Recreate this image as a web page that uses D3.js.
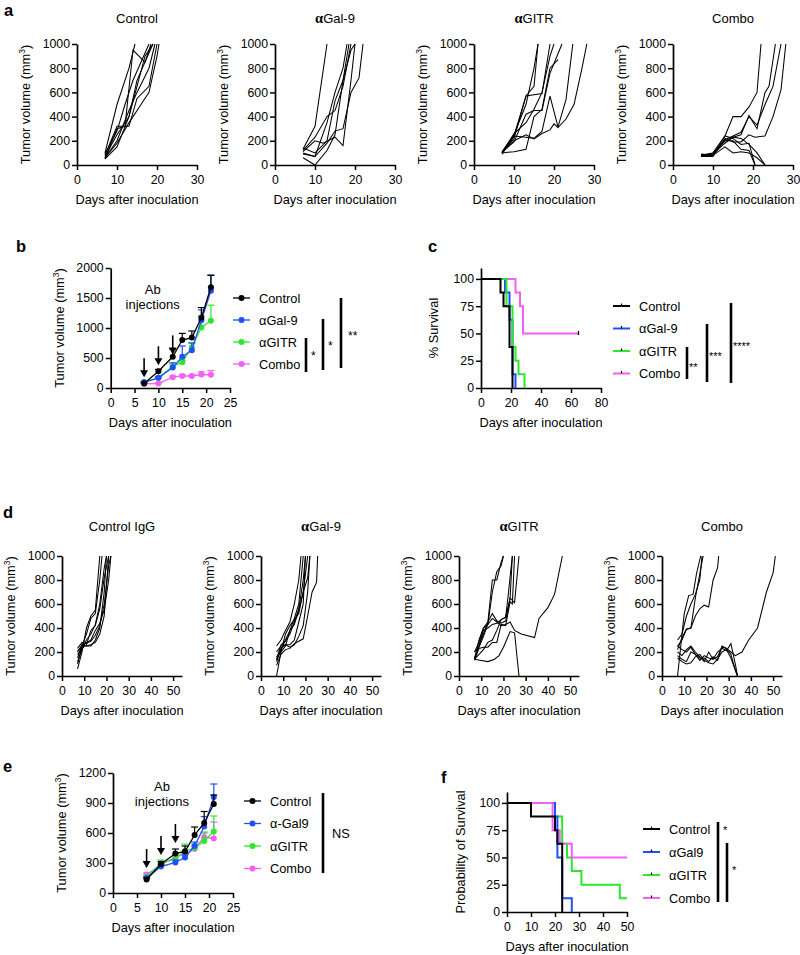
<!DOCTYPE html>
<html><head><meta charset="utf-8">
<script src="https://cdn.jsdelivr.net/npm/d3@7"></script>
<style>
body{margin:0;background:#fff}
svg{display:block}
text{font-family:"Liberation Sans",Arial,sans-serif;fill:#000}
</style>
</head><body><svg id="c" width="800" height="955"></svg>
<script>
// ---------------- DATA ----------------
const groups = ["Control","αGal-9","αGITR","Combo"];
const groupsE = ["Control","α-Gal9","αGITR","Combo"];
const groupsF = ["Control","αGal9","αGITR","Combo"];
const aTitles = ["Control","αGal-9","αGITR","Combo"];
const dTitles = ["Control IgG","αGal-9","αGITR","Combo"];
const aXTicks = [0,10,20,30];
const aYTicks = [0,200,400,600,800,1000];
const dXTicks = [0,10,20,30,40,50];
const bXTicks = [0,5,10,15,20,25];
const bYTicks = [0,500,1000,1500,2000];
const eYTicks = [0,300,600,900,1200];
const cXTicks = [0,20,40,60,80];
const fXTicks = [0,10,20,30,40,50];
const survTicks = [0,25,50,75,100];

// panel a individual tumors [day, volume]
const aControl = [
 [[7,100],[10,500],[13,800],[14.5,1000]],
 [[7,50],[10,300],[12,320],[14,950],[17,850],[18.5,1000]],
 [[7,70],[10,250],[13,400],[15,700],[17,850],[19,1000]],
 [[7,60],[10,200],[13,450],[15,600],[18,800],[19.5,1000]],
 [[7,80],[10,320],[13,320],[15,550],[18,650],[20,1000]],
 [[7,50],[10,150],[13,400],[15,650],[17,900],[19,1000]],
 [[7,90],[10,280],[12,500],[14,700],[18,1000]],
 [[7,60],[10,180],[13,350],[16,500],[18,600],[20,900],[20.5,1000]]
];
const aGal9 = [
 [[7,130],[10,320],[13,1000]],
 [[7,100],[10,70],[13,350],[15,600],[17,800],[18,1000]],
 [[7,60],[10,0],[13,120],[15,250],[17,700],[18.5,1000]],
 [[7,110],[10,200],[12,180],[15,230],[17,160],[19,700],[20,1000]],
 [[7,140],[10,100],[13,200],[15,530],[17,700],[19,950],[20,1000]],
 [[7,90],[10,70],[13,180],[15,280],[17,300],[19,600],[21,720],[22,1000]],
 [[7,120],[10,230],[13,400],[15,450],[17,650],[19,1000]]
];
const aGITR = [
 [[7,110],[10,250],[13,500],[15,800],[16,1000]],
 [[7,100],[10,220],[13,570],[15,650],[16,1000]],
 [[7,100],[10,240],[13,570],[17,590],[19,1000]],
 [[7,100],[10,110],[13,130],[15,400],[17,460],[19,800],[21,870]],
 [[7,110],[10,190],[13,420],[15,450],[17,450],[19,760],[22,1000]],
 [[7,90],[10,240],[13,230],[15,220],[17,280],[19,570],[21,315],[23,540],[24.7,1000]],
 [[7,100],[10,200],[13,250],[15,215],[17,260],[19,290],[20,340],[21,310],[23,380],[25,500],[27,800],[28.2,1000]],
 [[7,100],[10,260],[13,350],[15,460],[17,600],[19,900],[20,1000]]
];
const aCombo = [
 [[7,80],[10,80],[13,240],[15,400],[17,400],[19,480],[21,600],[22,1000]],
 [[7,80],[10,90],[13,200],[15,230],[17,250],[19,410],[21,300],[23,600],[24,650],[25.6,1000]],
 [[7,70],[10,70],[13,220],[15,190],[17,190],[19,250],[20.5,230],[23,240],[25,400],[27,620],[28.2,1000]],
 [[7,75],[10,85],[13,210],[15,240],[17,270],[19,400],[21,330],[23,500],[25,650],[27,1000]],
 [[7,80],[10,100],[13,240],[15,220],[17,170],[19,180],[20.5,0]],
 [[7,70],[10,100],[13,200],[15,200],[17,130],[19,120],[20.5,0]],
 [[7,90],[10,80],[13,150],[15,100],[17,110],[19,100],[21,60],[23,0]],
 [[7,85],[10,90],[13,180],[15,230],[17,220],[19,170],[21,100],[23,0]]
];

// panel d individual tumors
const dControl = [
 [[7,60],[9,200],[11,400],[13,500],[15,550],[17,1000]],
 [[7,100],[9,250],[11,350],[13,480],[15,520],[17,800],[18,1000]],
 [[7,150],[9,260],[11,250],[13,250],[15,300],[17,400],[19,700],[20,1000]],
 [[7,200],[9,260],[11,250],[13,260],[15,280],[17,350],[19,500],[21,1000]],
 [[7,230],[9,280],[11,270],[13,300],[15,380],[17,440],[19,550],[21,800],[22,1000]],
 [[7,120],[9,220],[11,300],[13,350],[15,430],[17,600],[19,900],[20,1000]],
 [[7,180],[9,230],[11,260],[13,380],[15,420],[17,560],[19,820],[21,1000]],
 [[7,210],[9,240],[11,280],[13,290],[15,340],[17,420],[19,600],[21,920],[22,1000]]
];
const dGal9 = [
 [[7,250],[9,300],[11,380],[13,450],[15,600],[17,800],[18,1000]],
 [[7,0],[9,200],[11,250],[13,380],[15,480],[17,600],[19,1000]],
 [[7,130],[9,230],[11,260],[13,260],[15,300],[17,450],[19,600],[20,1000]],
 [[7,160],[9,200],[11,350],[13,420],[15,470],[17,520],[19,700],[21,1000]],
 [[7,200],[9,250],[11,260],[13,240],[15,260],[17,330],[19,420],[21,700],[22,1000]],
 [[7,90],[9,180],[11,220],[13,230],[15,270],[17,290],[19,310],[21,500],[23,700],[25,780],[25.5,1000]],
 [[7,120],[9,220],[11,300],[13,380],[15,430],[17,550],[19,700],[21,820],[22,1000]],
 [[7,140],[9,260],[11,290],[13,350],[15,450],[17,560],[19,800],[20,1000]]
];
const dGITR = [
 [[7,140],[9,300],[11,400],[13,430],[15,700],[17,870],[19,920],[20,1000]],
 [[7,200],[9,280],[11,400],[13,450],[15,800],[17,800],[19,950],[20,1000]],
 [[7,150],[9,250],[11,350],[13,450],[15,520],[17,460],[19,440],[21,460],[23,650],[24,1000]],
 [[7,200],[9,240],[11,330],[13,430],[15,480],[17,450],[19,420],[21,430],[23,450],[25,380],[28,350],[34,320],[36,480],[40,570],[43,680],[46.5,1000]],
 [[7,130],[9,230],[11,240],[13,240],[15,280],[17,280],[19,430],[21,420],[23,620],[24,600],[25,1000]],
 [[7,140],[9,180],[11,220],[13,280],[15,300],[17,380],[19,470],[21,490],[23,650],[25,610],[27,1000]],
 [[7,140],[10,130],[13,120],[16,140],[18,170],[20,240],[23,370],[25,360],[27,0]],
 [[7,150],[9,250],[11,380],[13,400],[15,430],[17,440],[19,470],[21,490],[22,650],[24,1000]]
];
const dCombo = [
 [[7,300],[9,350],[11,500],[13,600],[15,680],[17,800],[18,1000]],
 [[7,0],[10,520],[12,670],[14,680],[15.5,850],[17.4,1000]],
 [[7,250],[9,300],[11,390],[13,400],[15,650],[17,850],[18.5,1000]],
 [[7,220],[9,320],[11,390],[13,400],[15,500],[17,560],[19,590],[21,575],[23,800],[25,900],[25.5,1000]],
 [[7,250],[9,220],[11,200],[13,240],[15,180],[17,130],[19,170],[21,150],[23,140],[25,160],[27,240],[29,230],[31,200],[33,170],[36,200],[39,300],[43,400],[47,700],[50,860],[51,1000]],
 [[7,200],[9,170],[11,220],[13,250],[15,200],[17,160],[19,120],[21,200],[23,140],[25,200],[27,230],[29,210],[31,270],[33,100],[34,0]],
 [[7,170],[9,140],[11,120],[13,200],[15,180],[17,150],[19,150],[21,120],[23,160],[25,130],[27,250],[29,230],[31,180],[33,50],[34,0]],
 [[7,150],[9,120],[11,100],[13,110],[15,160],[17,180],[19,130],[21,110],[23,100],[25,140],[27,200],[29,220],[31,150],[34,0]]
];

// panel b means (mm3) and upper SEM
const bDays = [7,10,13,15,17,19,21];
const bControl = [75,280,520,800,840,1170,1680];
const bControlErr = [10,30,130,110,110,170,200];
const bGal9 = [100,170,340,520,630,1130,1620];
const bGal9Err = [10,20,80,180,120,170,260];
const bGITR = [90,170,360,430,680,1010,1120];
const bGITRErr = [10,20,40,30,70,190,260];
const bCombo = [70,75,180,200,200,225,220];
const bComboErr = [5,10,20,20,15,45,70];
const bArrowTips = [180,380,560];

// panel e means and upper SEM
const eDays = [7,10,13,15,17,19,21];
const eControl = [135,290,395,415,580,700,890];
const eControlErr = [15,25,45,55,80,115,90];
const eGal9 = [150,265,305,355,470,665,960];
const eGal9Err = [10,20,25,25,40,100,130];
const eGITR = [160,300,340,420,450,520,615];
const eGITRErr = [15,30,40,70,40,90,155];
const eCombo = [185,280,360,390,440,560,545];
const eComboErr = [15,20,30,30,30,40,165];
const eArrowTips = [250,380,500];

// panel c survival (% , step after)
const cControl = [[0,100],[13,87.5],[15,75],[19,37.5],[21,0]];
const cGal9 = [[0,100],[16,87.5],[19,62.5],[21,12.5],[23,0]];
const cGITR = [[0,100],[17,75],[21,37.5],[23,25],[25,12.5],[29,0]];
const cCombo = [[0,100],[23,87.5],[26,75],[28,50],[65,50]];
const cCensor = [[65,50]];

// panel f survival
const fControl = [[0,100],[10,87.5],[20,75],[21,62.5],[23,0]];
const fGal9 = [[0,100],[20,87.5],[21,50],[23,12.5],[27,0]];
const fGITR = [[0,100],[20,87.5],[23,62.5],[25,50],[27,37.5],[31,25],[47,12.5],[50,12.5]];
const fCombo = [[0,100],[19,75],[22,62.5],[27,50],[50,50]];

const sigB = ["*","*","**"];
const sigC = ["**","***","****"];
const sigE = ["NS"];
const sigF = ["*","*"];

// ---------------- STYLE ----------------
const COL = {Control:"#000000", Gal9:"#1f4fff", GITR:"#2fe62f", Combo:"#f55ff5"};
const colList = [COL.Control, COL.Gal9, COL.GITR, COL.Combo];
const FONT = "'Liberation Sans', Arial, sans-serif";
const fmt = d3.format("d");

const svg = d3.select("#c");

function styleAxis(g){
  g.attr("font-family", FONT).attr("font-size", 12.3);
  g.select(".domain").attr("stroke","#000").attr("stroke-width",1.7);
  g.selectAll(".tick line").attr("stroke","#000").attr("stroke-width",1.5);
  g.selectAll(".tick text").attr("fill","#000");
}

function drawAxes(x, y, xticks, yticks, ylabel, yLabelOffset){
  const g = svg.append("g");
  const gx = g.append("g").attr("transform",`translate(0,${y(0)})`)
    .call(d3.axisBottom(x).tickValues(xticks).tickFormat(fmt).tickSize(5).tickPadding(5).tickSizeOuter(0));
  styleAxis(gx);
  const gy = g.append("g").attr("transform",`translate(${x(0)},0)`)
    .call(d3.axisLeft(y).tickValues(yticks).tickFormat(fmt).tickSize(5).tickPadding(2).tickSizeOuter(0));
  styleAxis(gy);
  const xm = (x.range()[0]+x.range()[1])/2;
  g.append("text").attr("x",xm).attr("y",y(0)+39).attr("text-anchor","middle")
    .attr("font-size",12.8).text("Days after inoculation");
  const ym = (y.range()[0]+y.range()[1])/2;
  const t = g.append("text").attr("transform",`translate(${x(0)-yLabelOffset},${ym}) rotate(-90)`)
    .attr("text-anchor","middle").attr("font-size",12.8);
  if(ylabel==="tumor"){
    t.append("tspan").text("Tumor volume (mm");
    t.append("tspan").attr("font-size",8.5).attr("dy",-5).text("3");
    t.append("tspan").attr("dy",5).text(")");
  } else t.text(ylabel);
  return g;
}

function title(x, y, str){
  const t = svg.append("text").attr("x",x).attr("y",y).attr("text-anchor","middle").attr("font-size",13);
  if(str.startsWith("α")){
    t.append("tspan").attr("font-family","'Liberation Serif','DejaVu Serif',serif").attr("font-weight","bold").attr("font-size",14.5).text("α");
    t.append("tspan").text(str.slice(1));
  } else t.text(str);
}

function panelLabel(x,y,s){
  svg.append("text").attr("x",x).attr("y",y).attr("font-size",16.5).attr("font-weight","bold").text(s);
}

// --------------- spaghetti panels ---------------
function spaghetti(x0, top, bottom, xmax, xticks, data, ttl, titleY){
  const x = d3.scaleLinear().domain([0,xmax]).range([x0, x0+120]);
  const y = d3.scaleLinear().domain([0,1000]).range([bottom, top]);
  drawAxes(x,y,xticks,aYTicks,"tumor",47);
  const line = d3.line().x(d=>x(d[0])).y(d=>y(d[1]));
  svg.append("g").selectAll("path").data(data).join("path")
    .attr("d",line).attr("fill","none").attr("stroke","#000").attr("stroke-width",1.05);
  title((x.range()[0]+x.range()[1])/2, titleY, ttl);
}

panelLabel(4,16,"a");
const aData = [aControl,aGal9,aGITR,aCombo];
const aX0 = [77,275,474,673];
aData.forEach((d,i)=>spaghetti(aX0[i],44,165,30,aXTicks,d,aTitles[i],23));

panelLabel(3,518,"d");
const dData = [dControl,dGal9,dGITR,dCombo];
const dX0 = [62,261,459,662];
dData.forEach((d,i)=>spaghetti(dX0[i],556,676,54,dXTicks,d,dTitles[i],531));

// --------------- mean growth panels (b, e) ---------------
function growth(xr, yr, ymax, yticks, series, errs, days, arrowTips, abPos, legendNames, legX, legY, legStep){
  const x = d3.scaleLinear().domain([0,25]).range(xr);
  const y = d3.scaleLinear().domain([0,ymax]).range(yr);
  drawAxes(x,y,bXTicks,yticks,"tumor",47);
  const line = d3.line().x((d,i)=>x(days[i])).y(d=>y(d));
  const order = [3,2,1,0];
  order.forEach(k=>{
    const g = svg.append("g");
    const vals = series[k], er = errs[k], c = colList[k];
    g.selectAll("line.e").data(vals).join("line")
      .attr("x1",(d,i)=>x(days[i])).attr("x2",(d,i)=>x(days[i]))
      .attr("y1",d=>y(d)).attr("y2",(d,i)=>y(d+er[i])).attr("stroke",c).attr("stroke-width",1.2);
    g.selectAll("line.c").data(vals).join("line")
      .attr("x1",(d,i)=>x(days[i])-3.5).attr("x2",(d,i)=>x(days[i])+3.5)
      .attr("y1",(d,i)=>y(d+er[i])).attr("y2",(d,i)=>y(d+er[i])).attr("stroke",c).attr("stroke-width",1.2);
    g.append("path").attr("d",line(vals)).attr("fill","none").attr("stroke",c).attr("stroke-width",1.3);
    g.selectAll("circle").data(vals).join("circle")
      .attr("cx",(d,i)=>x(days[i])).attr("cy",d=>y(d)).attr("r",3).attr("fill",c);
  });
  const ag = svg.append("g");
  [7,10,13].forEach((dd,i)=>{
    const tx = x(dd), ty = y(arrowTips[i]);
    ag.append("line").attr("x1",tx).attr("x2",tx).attr("y1",ty-19).attr("y2",ty-6).attr("stroke","#000").attr("stroke-width",1.6);
    ag.append("path").attr("d",`M${tx-4},${ty-7}L${tx+4},${ty-7}L${tx},${ty}Z`).attr("fill","#000");
  });
  svg.append("text").attr("x",x(abPos[0])).attr("y",y(abPos[1])).attr("text-anchor","middle").attr("font-size",13).text("Ab");
  svg.append("text").attr("x",x(abPos[0])).attr("y",y(abPos[1])+15).attr("text-anchor","middle").attr("font-size",13).text("injections");
  const lg = svg.append("g");
  legendNames.forEach((n,i)=>{
    const yy = legY + i*legStep;
    lg.append("line").attr("x1",legX).attr("x2",legX+17).attr("y1",yy).attr("y2",yy).attr("stroke",colList[i]).attr("stroke-width",1.3);
    lg.append("circle").attr("cx",legX+8.5).attr("cy",yy).attr("r",3).attr("fill",colList[i]);
    lg.append("text").attr("x",legX+26).attr("y",yy+4.5).attr("font-size",12.8).text(n);
  });
}

panelLabel(16,252,"b");
growth([110.7,230],[388,268],2000,bYTicks,[bControl,bGal9,bGITR,bCombo],[bControlErr,bGal9Err,bGITRErr,bComboErr],bDays,bArrowTips,[8.8,1575],groups,233,298,22);
panelLabel(3,772,"e");
growth([113,233],[893,773],1200,eYTicks,[eControl,eGal9,eGITR,eCombo],[eControlErr,eGal9Err,eGITRErr,eComboErr],eDays,eArrowTips,[10.2,1020],groupsE,244,801,22.5);

// --------------- survival panels (c, f) ---------------
function survival(xr, yr, xmax, xticks, curves, order, legendNames, legX, legY, legStep, ylabel, yoff, censor){
  const x = d3.scaleLinear().domain([0,xmax]).range(xr);
  const y = d3.scaleLinear().domain([0,110]).range(yr);
  drawAxes(x,y,xticks,survTicks,ylabel,yoff);
  const gen = d3.line().x(d=>x(d[0])).y(d=>y(d[1])).curve(d3.curveStepAfter);
  order.forEach(k=>{
    svg.append("path").attr("d",gen(curves[k])).attr("fill","none").attr("stroke",colList[k]).attr("stroke-width",2);
  });
  censor.forEach(d=>{
    svg.append("line").attr("x1",x(d[0])).attr("x2",x(d[0])).attr("y1",y(d[1])-2.5).attr("y2",y(d[1])+1.5).attr("stroke","#000").attr("stroke-width",1.3);
  });
  legendNames.forEach((n,i)=>{
    const yy = legY + i*legStep;
    svg.append("line").attr("x1",legX).attr("x2",legX+17).attr("y1",yy).attr("y2",yy).attr("stroke",colList[i]).attr("stroke-width",2);
    svg.append("line").attr("x1",legX+8.5).attr("x2",legX+8.5).attr("y1",yy-2.5).attr("y2",yy).attr("stroke","#000").attr("stroke-width",1.2);
    svg.append("text").attr("x",legX+26).attr("y",yy+4.5).attr("font-size",12.8).text(n);
  });
}

panelLabel(428,252,"c");
survival([481,601],[388,268],80,cXTicks,[cControl,cGal9,cGITR,cCombo],[1,3,2,0],groups,613,306,22.5,"% Survival",43,cCensor);
panelLabel(441,783,"f");
survival([507,627],[912,792],50,fXTicks,[fControl,fGal9,fGITR,fCombo],[2,1,3,0],groupsF,643,829,23,"Probability of Survival",42,[]);

// --------------- significance bars ---------------
function sigBar(x, y1, y2, label, lx, ly, fs){
  svg.append("line").attr("x1",x).attr("x2",x).attr("y1",y1).attr("y2",y2).attr("stroke","#000").attr("stroke-width",2.6);
  svg.append("text").attr("x",lx).attr("y",ly).attr("font-size",fs||12).text(label);
}
sigBar(306,338,372,sigB[0],311,360);
sigBar(323,319,370,sigB[1],328,350);
sigBar(341,298,368,sigB[2],348,340);

sigBar(687,347,379,sigC[0],689,371,11);
sigBar(707,324,382,sigC[1],709,360,11);
sigBar(731,303,383,sigC[2],733,350,11);

sigBar(323,793,873,sigE[0],332,838,12.8);

sigBar(718,822,902,sigF[0],723,834,11);
sigBar(727,843,902,sigF[1],732,874,11);
</script></body></html>
